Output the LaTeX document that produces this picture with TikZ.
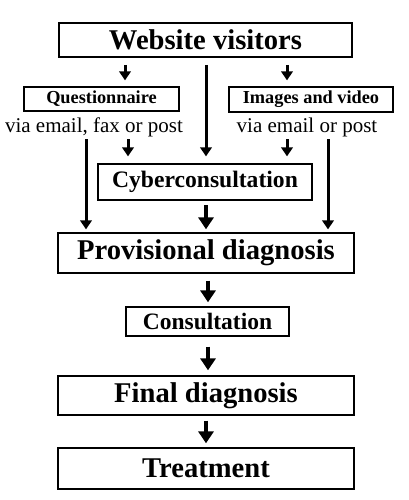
\documentclass[tikz,border=0pt]{standalone}
\usepackage{fontspec}
\setmainfont{Liberation Serif}
\usetikzlibrary{arrows.meta,positioning}

\begin{document}
\begin{tikzpicture}[x=1pt,y=-1pt,line join=miter,
    box/.style={draw,line width=1.3pt,inner sep=0pt,font=\bfseries},
    arr/.style={line width=3pt,-{Triangle[length=9pt,width=11.5pt]}},
    bigarr/.style={line width=4.5pt,-{Triangle[length=12pt,width=15pt]}}]
		\useasboundingbox (0,0) rectangle (408,500);
		\node[box,minimum width=293pt,minimum height=34pt,font=\fontsize{28.6}{30}\bfseries] (WV)   at (205.5,40)  {Website visitors};
		\node[box,minimum width=155pt,minimum height=24pt,font=\fontsize{18.3}{20}\bfseries] (Q)    at (101.5,99)  {Questionnaire};
		\node[box,minimum width=164pt,minimum height=25pt,font=\fontsize{18.3}{20}\bfseries] (IV)   at (311,99.5)  {Images and video};
		\node[inner sep=0pt,font=\fontsize{21}{23}\selectfont]                              (via1) at (94,127)     {via email, fax or post};
		\node[inner sep=0pt,font=\fontsize{21}{23}\selectfont]                              (via2) at (307,127)    {via email or post};
		\node[box,minimum width=214pt,minimum height=36pt,font=\fontsize{23.6}{25}\bfseries] (CC)   at (205,182)   {Cyberconsultation};
		\node[box,minimum width=296pt,minimum height=40pt,font=\fontsize{28.6}{30}\bfseries] (PD)   at (206,253)   {Provisional diagnosis};
		\node[box,minimum width=163pt,minimum height=29pt,font=\fontsize{23.5}{25}\bfseries] (Cons) at (207.5,321.5) {Consultation};
		\node[box,minimum width=296pt,minimum height=39pt,font=\fontsize{28.6}{30}\bfseries] (FD)   at (206,395.5) {Final diagnosis};
		\node[box,minimum width=296pt,minimum height=41pt,font=\fontsize{28.6}{30}\bfseries] (Tr)   at (206,468.5) {Treatment};
		% arrow starts
		\coordinate (wq) at (125,65);
		\coordinate (wc) at (206,65);
		\coordinate (wi) at (287,65);
		\coordinate (vl) at (86,139);
		\coordinate (vq) at (128,139);
		\coordinate (vi) at (287,139);
		\coordinate (vr) at (328,139);
		\coordinate (cp) at (206,205);
		\draw[arr,shorten >=6pt] (wq) -- (wq |- Q.north);
		\draw[arr,shorten >=7pt] (wc) -- (wc |- CC.north);
		\draw[arr,shorten >=6pt] (wi) -- (wi |- IV.north);
		\draw[arr,shorten >=3pt] (vl) -- (vl |- PD.north);
		\draw[arr,shorten >=7pt] (vq) -- (vq |- CC.north);
		\draw[arr,shorten >=7pt] (vi) -- (vi |- CC.north);
		\draw[arr,shorten >=3pt] (vr) -- (vr |- PD.north);
		\draw[bigarr,shorten >=3pt] (cp) -- (cp |- PD.north);
		\draw[bigarr,shorten <=7pt,shorten >=4pt] ([xshift=2pt]PD.south) -- ([xshift=2pt]PD.south |- Cons.north);
		\draw[bigarr,shorten <=10pt,shorten >=5pt] ([xshift=0.5pt]Cons.south) -- ([xshift=0.5pt]Cons.south |- FD.north);
		\draw[bigarr,shorten <=5pt,shorten >=4pt] (FD.south) -- (Tr.north);
\end{tikzpicture}
\end{document}
